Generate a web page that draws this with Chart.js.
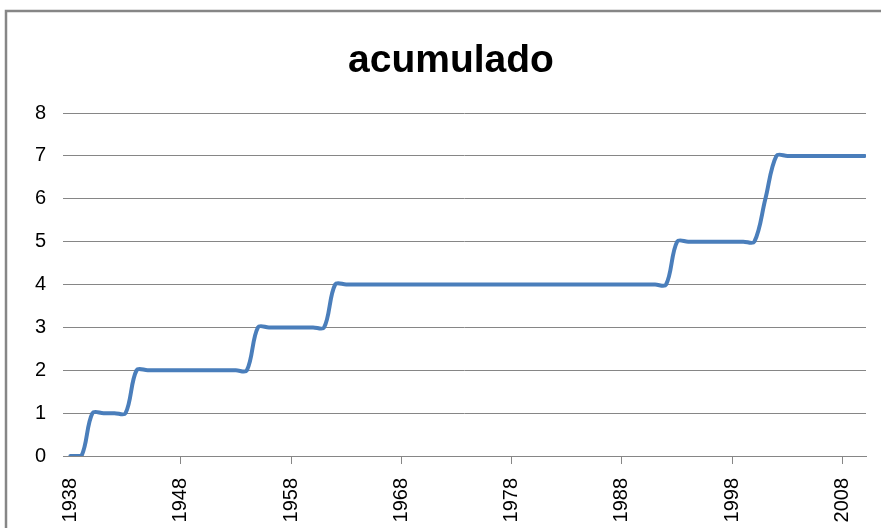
<!DOCTYPE html>
<html>
<head>
<meta charset="utf-8">
<script src="https://cdn.jsdelivr.net/npm/chart.js@4/dist/chart.umd.min.js"></script>
<style>
  html, body { margin: 0; padding: 0; background: #fff; overflow: hidden; }
  canvas { display: block; }
</style>
</head>
<body>
<canvas id="acumChart" width="881" height="528"></canvas>
<script>
// años (eje x)
const years = [
  1938, 1939, 1940, 1941, 1942, 1943, 1944, 1945, 1946, 1947,
  1948, 1949, 1950, 1951, 1952, 1953, 1954, 1955, 1956, 1957,
  1958, 1959, 1960, 1961, 1962, 1963, 1964, 1965, 1966, 1967,
  1968, 1969, 1970, 1971, 1972, 1973, 1974, 1975, 1976, 1977,
  1978, 1979, 1980, 1981, 1982, 1983, 1984, 1985, 1986, 1987,
  1988, 1989, 1990, 1991, 1992, 1993, 1994, 1995, 1996, 1997,
  1998, 1999, 2000, 2001, 2002, 2003, 2004, 2005, 2006, 2007,
  2008, 2009, 2010
];

// valor acumulado por año
const acumulado = [
  0, 0, 1, 1, 1, 1, 2, 2, 2, 2,
  2, 2, 2, 2, 2, 2, 2, 3, 3, 3,
  3, 3, 3, 3, 4, 4, 4, 4, 4, 4,
  4, 4, 4, 4, 4, 4, 4, 4, 4, 4,
  4, 4, 4, 4, 4, 4, 4, 4, 4, 4,
  4, 4, 4, 4, 4, 5, 5, 5, 5, 5,
  5, 5, 5, 6, 7, 7, 7, 7, 7, 7,
  7, 7, 7
];

// etiquetas del eje x
const tickYears = [1938, 1948, 1958, 1968, 1978, 1988, 1998, 2008];
const yTicks = [0, 1, 2, 3, 4, 5, 6, 7, 8];

const gridColor = '#868686';

// marco del gráfico y título (estilo Excel)
const frameTitle = {
  id: 'frameTitle',
  beforeDraw(chart) {
    const c = chart.ctx;
    c.save();
    c.strokeStyle = gridColor;
    c.lineWidth = 2.5;
    c.strokeRect(6, 11, 950, 700);
    c.restore();
  },
  afterDraw(chart) {
    const c = chart.ctx;
    c.save();
    c.fillStyle = '#000';
    c.font = 'bold 39px "Liberation Sans", Arial, sans-serif';
    c.textAlign = 'center';
    c.textBaseline = 'alphabetic';
    c.fillText('acumulado', 451, 72);
    c.restore();
  }
};

const points = years.map(function(y, i) {
  return { x: y, y: acumulado[i] };
});

const ctx = document.getElementById('acumChart').getContext('2d');
const chart = new Chart(ctx, {
  type: 'line',
  data: {
    datasets: [{
      label: 'acumulado',
      data: points,
      borderColor: '#4A7EBB',
      borderWidth: 4,
      borderCapStyle: 'round',
      pointRadius: 0,
      tension: 0.35,
      fill: false
    }]
  },
  options: {
    responsive: false,
    animation: false,
    layout: {
      padding: { left: 0, right: 13, top: 113, bottom: 0 }
    },
    scales: {
      x: {
        type: 'linear',
        min: 1937.33,
        max: 2010.12,
        afterBuildTicks: function(scale) {
          scale.ticks = tickYears.map(function(v) { return { value: v }; });
        },
        afterFit: function(scale) {
          scale.height = 72;
        },
        grid: {
          drawOnChartArea: false,
          drawTicks: true,
          tickLength: 8,
          color: function(c) {
            return c.index === 0 ? 'rgba(0,0,0,0)' : gridColor;
          }
        },
        border: { display: true, color: gridColor, width: 1 },
        ticks: {
          autoSkip: false,
          minRotation: 90,
          maxRotation: 90,
          padding: 14,
          color: '#000',
          font: { family: '"Liberation Sans", Arial, sans-serif', size: 20 },
          callback: function(value) { return String(value); }
        }
      },
      y: {
        min: 0,
        max: 8,
        afterBuildTicks: function(scale) {
          scale.ticks = yTicks.map(function(v) { return { value: v }; });
        },
        afterFit: function(scale) {
          scale.width = 63;
        },
        grid: {
          color: gridColor,
          lineWidth: 1,
          drawTicks: false
        },
        border: { display: false },
        ticks: {
          padding: 17,
          color: '#000',
          font: { family: '"Liberation Sans", Arial, sans-serif', size: 20 }
        }
      }
    },
    plugins: {
      legend: { display: false },
      title: { display: false },
      tooltip: { enabled: false }
    }
  },
  plugins: [frameTitle]
});
</script>
</body>
</html>
